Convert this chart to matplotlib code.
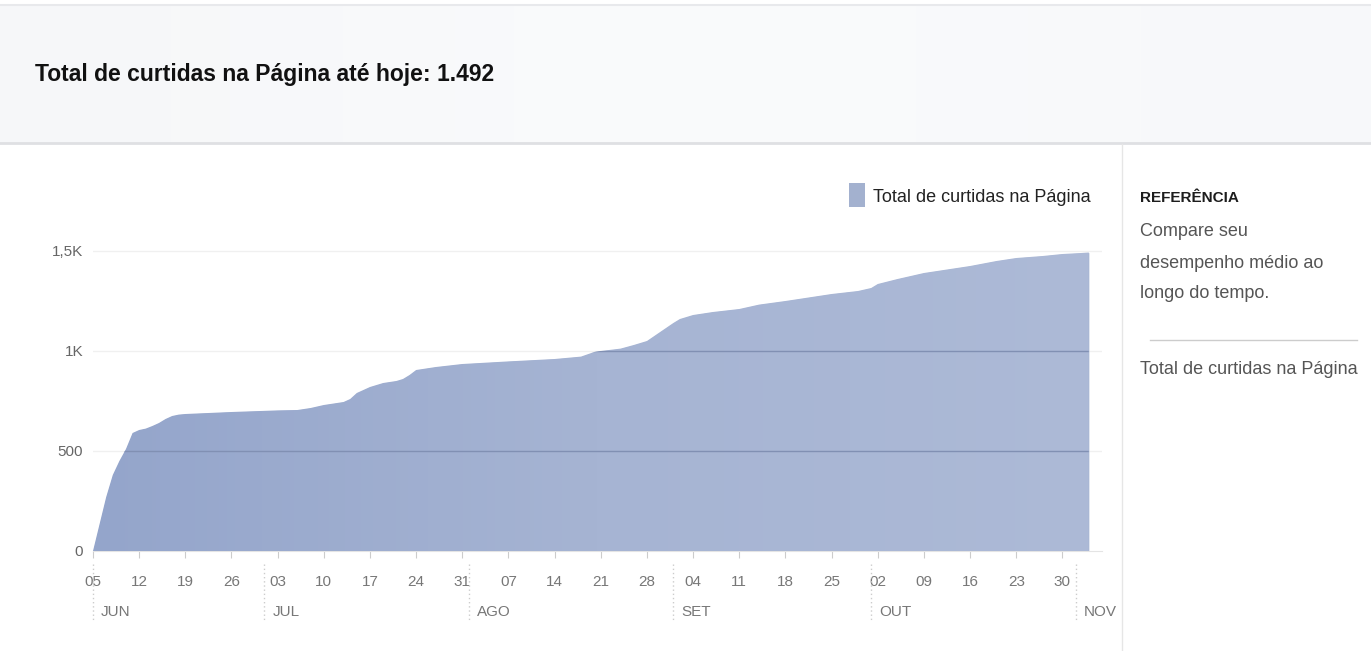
import datetime as dt
import matplotlib
matplotlib.use('Agg')
import matplotlib.pyplot as plt
import matplotlib.dates as mdates
import numpy as np
from matplotlib.colors import LinearSegmentedColormap

plt.rcParams['font.family'] = ['Liberation Sans', 'DejaVu Sans']

# dados (curtidas acumuladas)
datas = ["2016-06-05", "2016-06-07", "2016-06-08", "2016-06-09", "2016-06-10", "2016-06-11",
         "2016-06-12", "2016-06-13", "2016-06-14", "2016-06-15", "2016-06-16", "2016-06-17",
         "2016-06-18", "2016-06-19", "2016-06-26", "2016-07-03", "2016-07-06", "2016-07-08",
         "2016-07-10", "2016-07-13", "2016-07-14", "2016-07-15", "2016-07-17", "2016-07-19",
         "2016-07-21", "2016-07-22", "2016-07-23", "2016-07-24", "2016-07-27", "2016-07-31",
         "2016-08-07", "2016-08-14", "2016-08-18", "2016-08-20", "2016-08-21", "2016-08-24",
         "2016-08-26", "2016-08-28", "2016-08-30", "2016-09-01", "2016-09-02", "2016-09-04",
         "2016-09-07", "2016-09-11", "2016-09-14", "2016-09-18", "2016-09-21", "2016-09-25",
         "2016-09-29", "2016-10-01", "2016-10-02", "2016-10-05", "2016-10-09", "2016-10-12",
         "2016-10-16", "2016-10-20", "2016-10-23", "2016-10-27", "2016-10-30", "2016-11-03"]
curtidas = [0, 270, 380, 450, 510, 590,
            605, 612, 625, 640, 660, 675,
            682, 685, 695, 703, 705, 715,
            730, 745, 760, 790, 820, 840,
            850, 860, 880, 905, 920, 935,
            948, 960, 972, 995, 1000, 1012,
            1030, 1050, 1095, 1140, 1160, 1180,
            1195, 1210, 1232, 1250, 1265, 1285,
            1300, 1315, 1335, 1360, 1390, 1405,
            1425, 1450, 1465, 1475, 1485, 1492]
y_ticks = [0, 500, 1000, 1500]
y_labels = ["0", "500", "1K", "1,5K"]
meses = ["JUN", "JUL", "AGO", "SET", "OUT", "NOV"]
inicio_mes = ["2016-06-05", "2016-07-01", "2016-08-01", "2016-09-01", "2016-10-01", "2016-11-01"]

x = [dt.datetime.strptime(d, "%Y-%m-%d") for d in datas]
W, H = 1371, 651


def fx(px):
    return px / W


def fy(py):
    return 1 - py / H


fig = plt.figure(figsize=(13.71, 6.51), dpi=100)
fig.patch.set_facecolor("white")

# faixa do cabeçalho (leve degradê)
hdr = fig.add_axes([0, fy(143), 1, fy(5) - fy(143)], zorder=0)
hdr.imshow(np.linspace(0, 1, 256).reshape(1, -1), aspect="auto",
           cmap=LinearSegmentedColormap.from_list("h", ["#f6f7f9", "#fafbfc", "#f7f8fa"]))
hdr.axis("off")
fig.add_artist(plt.Line2D([0, 1], [fy(5), fy(5)], color="#e8e9ec", lw=1.5))
fig.add_artist(plt.Line2D([0, 1], [fy(143), fy(143)], color="#dfe0e3", lw=2))
fig.text(fx(35), fy(75), "Total de curtidas na Página até hoje: 1.492", fontsize=16.5,
         fontweight="bold", color="#111111", va="center", ha="left")

# painel da direita
fig.add_artist(plt.Line2D([fx(1122), fx(1122)], [0, fy(144)], color="#e6e6e6", lw=1))
fig.text(fx(1140), fy(198), "REFERÊNCIA", fontsize=11, fontweight="bold", color="#1d1d1d", va="center")
for yy, t in zip([232, 263, 293], ["Compare seu", "desempenho médio ao", "longo do tempo."]):
    fig.text(fx(1140), fy(yy), t, fontsize=13, color="#555555", va="center")
fig.add_artist(plt.Line2D([fx(1150), fx(1357)], [fy(340), fy(340)], color="#cccccc", lw=1))
fig.text(fx(1140), fy(370), "Total de curtidas na Página", fontsize=13, color="#555555", va="center")

# área do gráfico
ax = fig.add_axes([fx(93), 100 / H, (1102 - 93) / W, 320 / H])
ax.set_facecolor("none")
x0 = mdates.date2num(x[0])
ax.set_xlim(x0, x0 + 153)
ax.set_ylim(0, 1600)

area = ax.fill_between(x, curtidas, color="#a0b0d0", lw=0, zorder=2)
grad = LinearSegmentedColormap.from_list("g", ["#94a5cb", "#a6b4d3", "#adbad7"])
img = ax.imshow(np.linspace(0, 1, 256).reshape(1, -1), cmap=grad, aspect="auto",
                extent=[x0, x0 + 153, 0, 1600], zorder=3)
img.set_clip_path(area.get_paths()[0], ax.transData)

for v in y_ticks[1:]:
    ax.axhline(v, color="#f0f0f0", lw=1, zorder=1)
    ln = ax.axhline(v, color="#8190b3", lw=1, zorder=4)
    ln.set_clip_path(area.get_paths()[0], ax.transData)

ax.set_yticks(y_ticks)
ax.set_yticklabels(y_labels)
ax.tick_params(axis="y", length=0, pad=7, labelsize=11, labelcolor="#666666")

ax.xaxis.set_major_locator(mdates.WeekdayLocator(byweekday=mdates.SU))
ax.xaxis.set_major_formatter(mdates.DateFormatter("%d"))
ax.tick_params(axis="x", length=5, color="#cccccc", labelsize=11, labelcolor="#777777", pad=12)

for s in ["left", "right", "top"]:
    ax.spines[s].set_visible(False)
ax.spines["bottom"].set_color("#e4e4e4")

# meses e separadores pontilhados
for m, d in zip(meses, inicio_mes):
    xm = mdates.date2num(dt.datetime.strptime(d, "%Y-%m-%d"))
    ax.plot([xm, xm], [-0.04, -0.22], transform=ax.get_xaxis_transform(), clip_on=False,
            color="#cccccc", lw=1, ls=(0, (1, 2)))
    ax.text(xm + 1.2, -0.19, m, transform=ax.get_xaxis_transform(), fontsize=11,
            color="#777777", ha="left", va="center")

# legenda
fig.add_artist(plt.Rectangle((fx(849), fy(207)), fx(16), fy(183) - fy(207), transform=fig.transFigure,
                             facecolor="#a3b1cf", edgecolor="none"))
fig.text(fx(873), fy(198), "Total de curtidas na Página", fontsize=13, color="#222222", va="center")

fig.savefig("out.png", dpi=100)
